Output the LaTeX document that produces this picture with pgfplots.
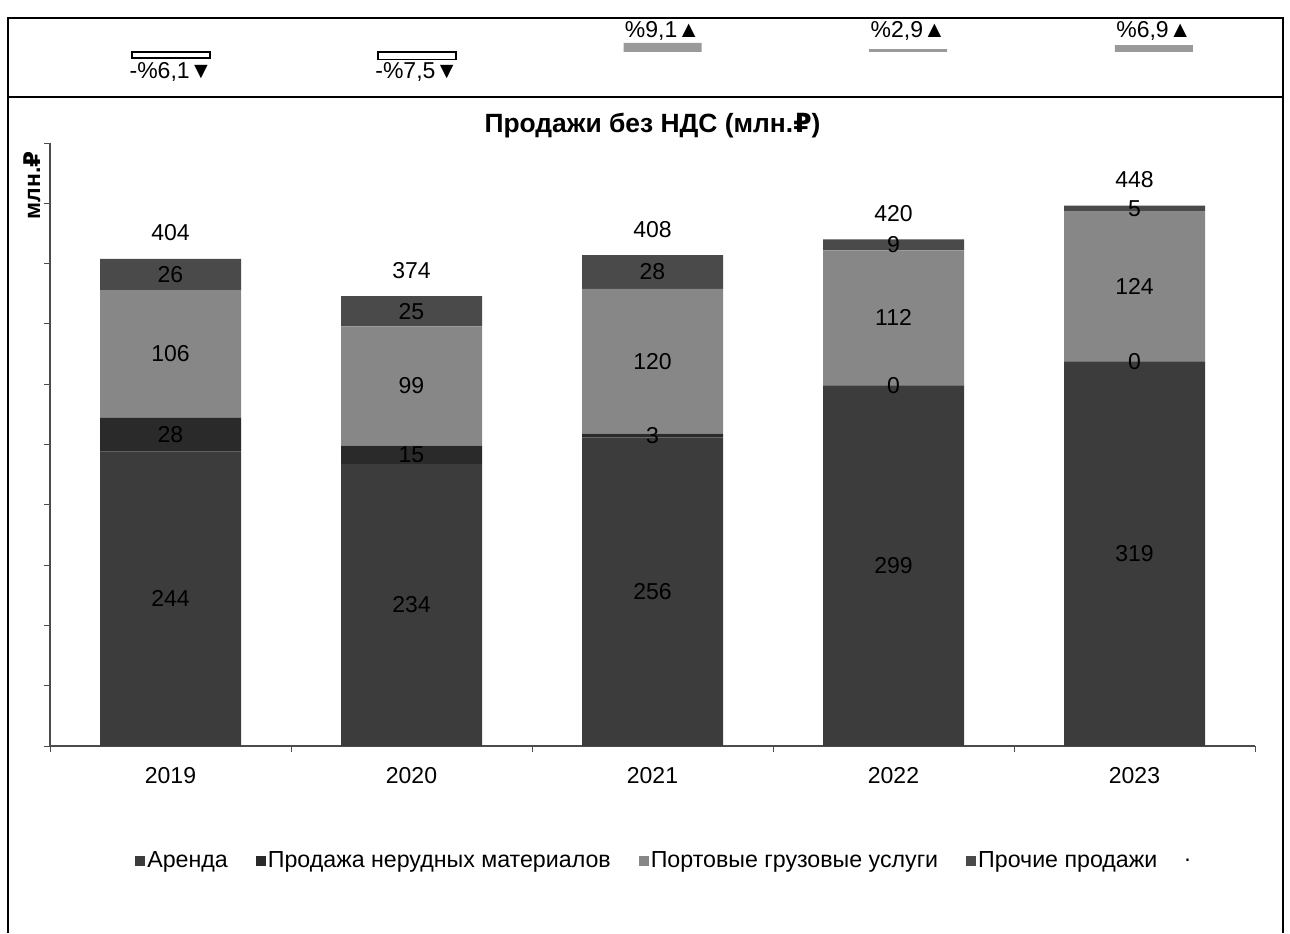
\documentclass[border=0pt]{standalone}
\usepackage{pgfplots}
\pgfplotsset{compat=1.18}
\usepackage{pgfplotstable}
\usepackage{fontspec}
\setmainfont{Liberation Sans}
\newfontfamily\rub{DejaVu Sans}
\newcommand{\fs}{\fontsize{11.5}{13}\selectfont}
\newcommand{\fl}{\fontsize{11.6}{14}\selectfont}
\definecolor{cArenda}{HTML}{3C3C3C}
\definecolor{cNerud}{HTML}{2A2A2A}
\definecolor{cPort}{HTML}{878787}
\definecolor{cProch}{HTML}{4A4A4A}
\definecolor{cChg}{HTML}{9A9A9A}

\pgfplotstableread{
x year arenda nerud port proch total
0 2019 244 28 106 26 404
1 2020 234 15 99 25 374
2 2021 256 3 120 28 408
3 2022 299 0 112 9 420
4 2023 319 0 124 5 448
}\sales

\pgfplotstableread{
x chg
0 -6.1
1 -7.5
}\chgneg
\pgfplotstableread{
x chg
2 9.1
3 2.9
4 6.9
}\chgpos

\pgfplotsset{/pgf/number format/assume math mode=true}

\begin{document}
\begin{tikzpicture}
\path[use as bounding box] (0,0) rectangle (645pt,466.5pt);
% frames
\draw[line width=0.9pt] (4pt,0) -- (4pt,457.5pt) -- (641.5pt,457.5pt) -- (641.5pt,0);
\draw[line width=0.9pt] (4pt,418pt) -- (641.5pt,418pt);

% main stacked bars
\begin{axis}[
  at={(25pt,93.5pt)}, anchor=south west,
  scale only axis, width=602.5pt, height=301.5pt,
  ybar stacked, bar width=70.5pt,
  xmin=-0.5, xmax=4.5, ymin=0, ymax=500,
  xtick={-0.5,0.5,...,4.5},
  xticklabels={2019,2020,2021,2022,2023},
  x tick label as interval,
  ytick={0,50,...,500}, yticklabels={},
  axis lines*=left,
  axis line style={black!70, line width=0.6pt},
  tick align=outside, major tick length=3pt,
  tick style={black!70, line width=0.5pt},
  xticklabel style={font=\fs, yshift=-4pt},
  title={\bfseries Продажи без НДС (млн.{\rub ₽})},
  title style={at={(0.5,1)}, anchor=center, yshift=2.5pt, font=\fontsize{13.2}{15}\selectfont},
  ylabel={\bfseries млн.{\rub ₽}},
  ylabel style={at={(axis description cs:-0.015,0.93)}, anchor=center, font=\fs},
  legend style={at={(axis description cs:0.0655,-0.19)}, anchor=west, draw=none, fill=none,
    font=\fl, legend columns=-1,
    nodes={inner sep=1pt},
    /tikz/every odd column/.append style={column sep=0pt},
    /tikz/every even column/.append style={column sep=13pt}},
  legend image code/.code={\fill[#1] (0pt,-2.5pt) rectangle (5pt,2.5pt);},
]
\addplot[fill=cArenda, draw=none] table[x=x,y=arenda]{\sales};
\addlegendentry{Аренда}
\addplot[fill=cNerud, draw=none] table[x=x,y=nerud]{\sales};
\addlegendentry{Продажа нерудных материалов}
\addplot[fill=cPort, draw=none] table[x=x,y=port]{\sales};
\addlegendentry{Портовые грузовые услуги}
\addplot[fill=cProch, draw=none] table[x=x,y=proch]{\sales};
\addlegendentry{Прочие продажи}
\end{axis}

% labels overlay
\begin{axis}[
  at={(25pt,93.5pt)}, anchor=south west,
  scale only axis, width=602.5pt, height=301.5pt,
  xmin=-0.5, xmax=4.5, ymin=0, ymax=500,
  hide axis, clip=false,
  every node near coord/.append style={anchor=center, font=\fs, text=black},
]
\addplot[draw=none, mark=none, nodes near coords, point meta=explicit]
  table[x=x, y expr=\thisrow{arenda}/2, meta=arenda]{\sales};
\addplot[draw=none, mark=none, nodes near coords, point meta=explicit]
  table[x=x, y expr=\thisrow{arenda}+\thisrow{nerud}/2, meta=nerud]{\sales};
\addplot[draw=none, mark=none, nodes near coords, point meta=explicit]
  table[x=x, y expr=\thisrow{arenda}+\thisrow{nerud}+\thisrow{port}/2, meta=port]{\sales};
\addplot[draw=none, mark=none, nodes near coords, point meta=explicit]
  table[x=x, y expr=\thisrow{arenda}+\thisrow{nerud}+\thisrow{port}+\thisrow{proch}/2, meta=proch]{\sales};
\addplot[draw=none, mark=none, nodes near coords, point meta=explicit,
  every node near coord/.append style={yshift=13pt}]
  table[x=x, y expr=\thisrow{arenda}+\thisrow{nerud}+\thisrow{port}+\thisrow{proch}, meta=total]{\sales};
\node[font=\fl] at (axis description cs:0.944,-0.19) {.};
\end{axis}

% top change panel
\begin{axis}[
  at={(24.1pt,435.5pt)}, anchor=south west,
  scale only axis, width=614.3pt, height=10pt,
  xmin=-0.5, xmax=4.5, ymin=-10, ymax=10,
  hide axis, clip=false,
  every node near coord/.append style={anchor=center, font=\fs, text=black},
]
\addplot[ybar, bar width=39pt, bar shift=0pt, fill=white, draw=black, line width=0.9pt]
  table[x=x,y=chg]{\chgneg};
\addplot[ybar, bar width=39pt, bar shift=0pt, fill=cChg, draw=none]
  table[x=x,y=chg]{\chgpos};
\addplot[draw=none, mark=none, nodes near coords, point meta=explicit symbolic]
  coordinates {(0,-20)[-\%6,1▼] (1,-20)[-\%7,5▼] (2,21)[\%9,1▲] (3,21)[\%2,9▲] (4,21)[\%6,9▲]};
\end{axis}
\end{tikzpicture}
\end{document}
